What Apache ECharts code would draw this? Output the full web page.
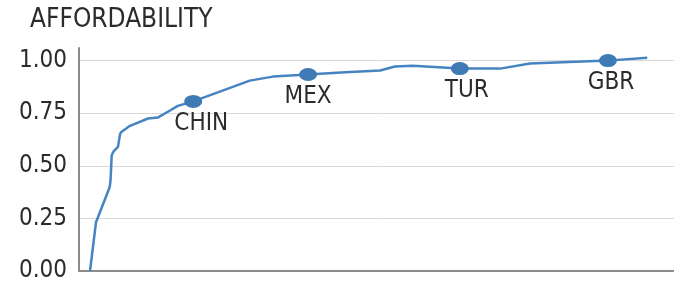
<!DOCTYPE html>
<html>
<head>
<meta charset="utf-8">
<script src="https://cdn.jsdelivr.net/npm/echarts@6/dist/echarts.min.js"></script>
<style>
  html, body { margin: 0; padding: 0; background: #fff; }
  #chart { width: 674px; height: 283px; }
</style>
</head>
<body>
<div id="chart"></div>
<script>
// curve (x = position along the ranking, 0..100)
var curveX = [1.85, 2.86, 5.15, 5.3, 5.5, 5.85, 6.55, 6.9, 7.06, 8.57, 11.6, 13.3, 15.3, 16.6, 19.2, 28.7, 32.6, 38.5, 44.0, 50.6, 53.1, 56.1, 64.0, 70.8, 75.8, 88.9, 95.5];
var curveY = [0.0, 0.232, 0.398, 0.43, 0.55, 0.57, 0.59, 0.65, 0.66, 0.69, 0.725, 0.73, 0.763, 0.785, 0.806, 0.905, 0.924, 0.934, 0.943, 0.953, 0.972, 0.976, 0.962, 0.962, 0.986, 1.0, 1.014];

// highlighted countries
var markerNames = ['CHIN', 'MEX', 'TUR', 'GBR'];
var markerX = [19.2, 38.5, 64.0, 88.9];
var markerY = [0.806, 0.934, 0.962, 1.0];
var labelShiftX = [8, 0, 7, 3];

var yTicks = [0, 0.25, 0.5, 0.75, 1.0];

var font = '"DejaVu Sans Condensed", "DejaVu Sans", sans-serif';
var lineColor = '#4584c0';

var chart = echarts.init(document.getElementById('chart'), null, { renderer: 'canvas' });

var lineData = curveX.map(function (x, i) { return [x, curveY[i]]; });
var dotData = markerNames.map(function (n, i) {
    return {
        name: n,
        value: [markerX[i], markerY[i]],
        label: { offset: [labelShiftX[i], 0] }
    };
});

chart.setOption({
    animation: false,
    title: {
        text: 'AFFORDABILITY',
        left: 25, top: 2,
        textStyle: { fontFamily: font, fontSize: 26, fontWeight: 'normal', color: '#2b2b2b' }
    },
    grid: { left: 79, right: 0, top: 48, bottom: 12 },
    xAxis: {
        type: 'value', min: 0, max: 100,
        axisLine: { show: true, lineStyle: { color: '#8c8c8c', width: 2 } },
        axisTick: { show: false },
        axisLabel: { show: false },
        splitLine: { show: false }
    },
    yAxis: {
        type: 'value', min: 0, max: 1.06, interval: 0.25,
        axisLine: { show: true, lineStyle: { color: '#8c8c8c', width: 2 } },
        axisTick: { show: false },
        axisLabel: {
            margin: 12, showMaxLabel: false,
            fontFamily: font, fontSize: 24, color: '#2b2b2b',
            formatter: function (v) { return yTicks.indexOf(v) >= 0 ? v.toFixed(2) : ''; }
        },
        splitLine: { show: true, showMaxLine: false, lineStyle: { color: '#d9d9d9', width: 1 } }
    },
    series: [
        {
            type: 'line',
            data: lineData,
            symbol: 'none',
            lineStyle: { color: lineColor, width: 2.5 },
            z: 2
        },
        {
            type: 'scatter',
            data: dotData,
            symbol: 'circle',
            symbolSize: [18, 13],
            itemStyle: { color: '#3f7ab5', opacity: 1 },
            label: {
                show: true, position: 'bottom', distance: 4,
                formatter: '{b}',
                fontFamily: font, fontSize: 24, color: '#2b2b2b'
            },
            z: 3
        }
    ]
});
</script>
</body>
</html>
